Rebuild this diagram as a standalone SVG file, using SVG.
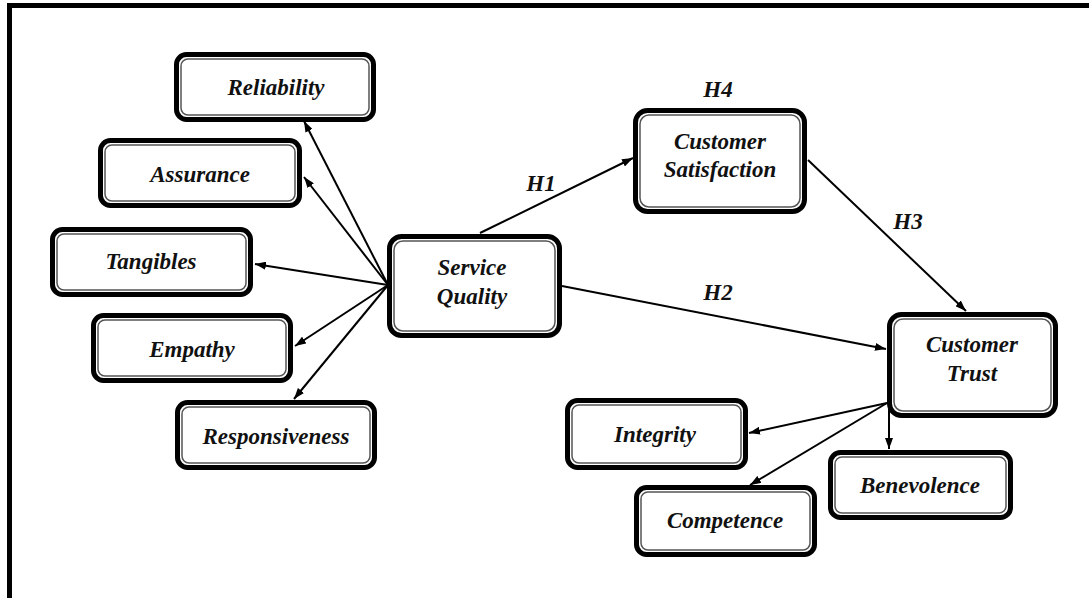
<svg xmlns="http://www.w3.org/2000/svg" width="1089" height="598" viewBox="0 0 1089 598">
<style>
.o{fill:#fff;stroke:#000;stroke-width:5}
.i{fill:none;stroke:#555;stroke-width:1.5}
.t{font-family:"Liberation Serif","Times New Roman",serif;font-weight:bold;font-style:italic;font-size:23px;fill:#111;text-anchor:middle}
.c{stroke:#000;stroke-width:2;fill:none;marker-end:url(#ah)}
</style>
<defs>
<marker id="ah" markerUnits="userSpaceOnUse" markerWidth="11" markerHeight="8" refX="11" refY="4" orient="auto">
<path d="M0,0 L11,4 L0,8 z" fill="#000"/>
</marker>
</defs>
<rect x="9.5" y="5.5" width="1100" height="620" fill="none" stroke="#000" stroke-width="5"/>
<g id="connectors">
<line class="c" x1="388" y1="285" x2="304" y2="121"/>
<line class="c" x1="388" y1="285" x2="304" y2="177"/>
<line class="c" x1="388" y1="285" x2="255" y2="264"/>
<line class="c" x1="388" y1="285" x2="295" y2="346"/>
<line class="c" x1="388" y1="285" x2="294" y2="399"/>
<line class="c" x1="480" y1="233" x2="633" y2="158"/>
<line class="c" x1="562" y1="286" x2="886" y2="349"/>
<line class="c" x1="808" y1="160" x2="966" y2="311"/>
<line class="c" x1="887" y1="403" x2="749" y2="433"/>
<line class="c" x1="887" y1="403" x2="750" y2="485"/>
<line class="c" x1="889" y1="403" x2="889" y2="449"/>
<text class="t" x="718" y="97">H4</text>
<text class="t" x="541" y="191">H1</text>
<text class="t" x="908" y="229">H3</text>
<text class="t" x="718" y="300">H2</text>
</g>
<g id="reliability"><rect class="o" x="176.5" y="54.5" width="197" height="65" rx="10"/><rect class="i" x="181" y="59" width="188" height="56" rx="7"/><text class="t" x="276" y="95">Reliability</text></g>
<g id="assurance"><rect class="o" x="100.5" y="140.5" width="199" height="65" rx="10"/><rect class="i" x="105" y="145" width="190" height="56" rx="7"/><text class="t" x="200" y="182">Assurance</text></g>
<g id="tangibles"><rect class="o" x="52.5" y="229.5" width="198" height="65" rx="10"/><rect class="i" x="57" y="234" width="189" height="56" rx="7"/><text class="t" x="151" y="269">Tangibles</text></g>
<g id="empathy"><rect class="o" x="93.5" y="315.5" width="197" height="65" rx="10"/><rect class="i" x="98" y="320" width="188" height="56" rx="7"/><text class="t" x="192" y="357">Empathy</text></g>
<g id="responsiveness"><rect class="o" x="177.5" y="402.5" width="197" height="65" rx="10"/><rect class="i" x="182" y="407" width="188" height="56" rx="7"/><text class="t" x="276" y="444">Responsiveness</text></g>
<g id="service-quality"><rect class="o" x="389.5" y="236.5" width="170" height="99" rx="12"/><rect class="i" x="394" y="241" width="161" height="90" rx="9"/><text class="t" x="472" y="275">Service</text><text class="t" x="472" y="304">Quality</text></g>
<g id="customer-satisfaction"><rect class="o" x="635.5" y="110.5" width="169" height="101" rx="12"/><rect class="i" x="640" y="115" width="160" height="92" rx="9"/><text class="t" x="720" y="149">Customer</text><text class="t" x="720" y="177">Satisfaction</text></g>
<g id="customer-trust"><rect class="o" x="889.5" y="314.5" width="166" height="101" rx="12"/><rect class="i" x="894" y="319" width="157" height="92" rx="9"/><text class="t" x="972" y="352">Customer</text><text class="t" x="972" y="381">Trust</text></g>
<g id="integrity"><rect class="o" x="567.5" y="400.5" width="178" height="67" rx="10"/><rect class="i" x="572" y="405" width="169" height="58" rx="7"/><text class="t" x="655" y="442">Integrity</text></g>
<g id="competence"><rect class="o" x="636.5" y="487.5" width="178" height="67" rx="10"/><rect class="i" x="641" y="492" width="169" height="58" rx="7"/><text class="t" x="725" y="528">Competence</text></g>
<g id="benevolence"><rect class="o" x="830.5" y="452.5" width="180" height="65" rx="10"/><rect class="i" x="835" y="457" width="171" height="56" rx="7"/><text class="t" x="920" y="493">Benevolence</text></g>
</svg>
